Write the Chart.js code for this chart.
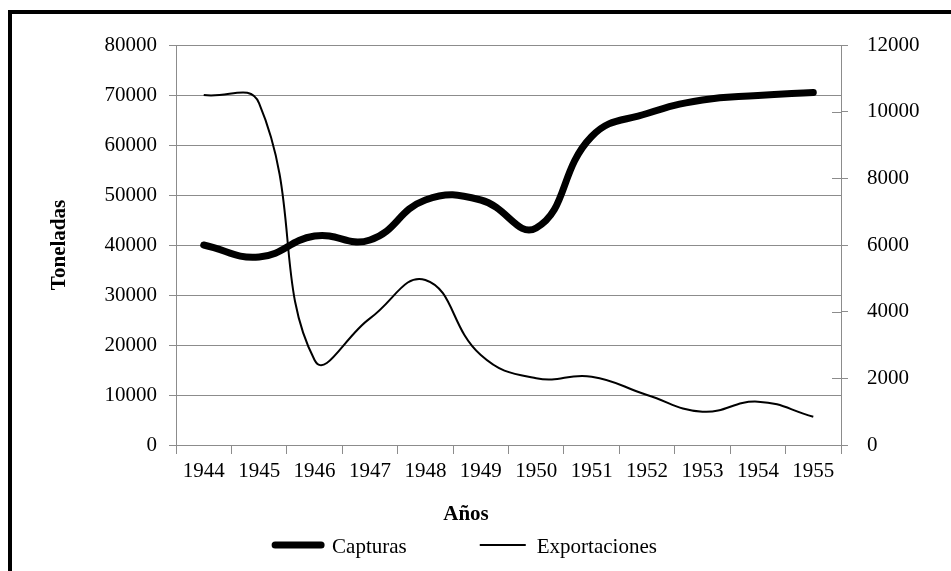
<!DOCTYPE html>
<html>
<head>
<meta charset="utf-8">
<script src="https://cdn.jsdelivr.net/npm/chart.js@4.4.0/dist/chart.umd.min.js"></script>
<style>
  html, body { margin: 0; padding: 0; background: #fff; }
  #wrap { position: relative; width: 951px; height: 571px; overflow: hidden; }
  #frame { position: absolute; left: 8px; top: 10px; width: 980px; height: 620px;
           border: 4px solid #000; box-sizing: border-box; pointer-events: none; }
</style>
</head>
<body>
<div id="wrap">
  <canvas id="capturasChart" width="951" height="571"></canvas>
  <div id="frame"></div>
</div>
<script>
// data
const years = ['1944', '1945', '1946', '1947', '1948', '1949', '1950', '1951', '1952', '1953', '1954', '1955'];
const capturas = [40000, 37600, 41800, 41000, 49000, 49000, 43400, 61700, 66300, 69000, 69900, 70500];
const exportaciones = [10500, 10250, 2550, 3800, 4950, 2700, 2000, 2050, 1500, 1000, 1300, 850];

// axis ticks
const leftTicks = [0, 10000, 20000, 30000, 40000, 50000, 60000, 70000, 80000];
const rightTicks = [0, 2000, 4000, 6000, 8000, 10000, 12000];

const yTitle = 'Toneladas';
const xTitle = 'Años';

const FONT = '"Liberation Serif", "Times New Roman", serif';
const GRAY = '#8c8c8c';

// small legend drawn under the axis, plus the x title centred over it
const bottomLegend = {
    id: 'bottomLegend',
    afterDraw(chart) {
        const ctx = chart.ctx;
        const cx = 466;
        ctx.save();
        ctx.fillStyle = '#000';
        ctx.textBaseline = 'middle';
        ctx.textAlign = 'center';
        ctx.font = 'bold 21px ' + FONT;
        ctx.fillText(xTitle, cx, 515);

        ctx.font = '21px ' + FONT;
        ctx.textAlign = 'left';
        const lineLen = 46, gap = 73;
        const items = chart.data.datasets.map(ds => ({ ds: ds, w: lineLen + 11 + ctx.measureText(ds.label).width }));
        const total = items.reduce((a, it) => a + it.w, 0) + gap * (items.length - 1);
        let x = cx - total / 2;
        items.forEach(it => {
            ctx.strokeStyle = it.ds.borderColor;
            ctx.lineWidth = it.ds.borderWidth;
            ctx.lineCap = it.ds.borderCapStyle || 'butt';
            ctx.beginPath();
            ctx.moveTo(x, 545);
            ctx.lineTo(x + lineLen, 545);
            ctx.stroke();
            ctx.fillText(it.ds.label, x + lineLen + 11, 547);
            x += it.w + gap;
        });
        ctx.restore();
    }
};

// the right axis has its ticks crossing the axis line
const crossTicks = {
    id: 'crossTicks',
    afterDraw(chart) {
        const s = chart.scales.y1;
        const ctx = chart.ctx;
        ctx.save();
        ctx.strokeStyle = GRAY;
        ctx.lineWidth = 1;
        s.ticks.forEach(t => {
            const y = Math.round(s.getPixelForValue(t.value)) + 0.5;
            ctx.beginPath();
            ctx.moveTo(s.left - 9, y);
            ctx.lineTo(s.left, y);
            ctx.stroke();
        });
        ctx.restore();
    }
};

const chartContainer = document.querySelector('#capturasChart');

const chartData = {
    labels: years,
    datasets: [{
        label: 'Capturas',
        data: capturas,
        yAxisID: 'y',
        borderColor: '#000',
        borderWidth: 7,
        borderCapStyle: 'round',
        pointRadius: 0,
        tension: 0.45,
        fill: false
    }, {
        label: 'Exportaciones',
        data: exportaciones,
        yAxisID: 'y1',
        borderColor: '#000',
        borderWidth: 2,
        borderCapStyle: 'butt',
        pointRadius: 0,
        tension: 0.45,
        fill: false
    }]
};

const chartConfig = {
    type: 'line',
    data: chartData,
    options: {
        responsive: false,
        animation: false,
        layout: { padding: { top: 45, left: 0, right: 0, bottom: 76 } },
        plugins: {
            legend: { display: false },
            tooltip: { enabled: false }
        },
        scales: {
            x: {
                offset: true,
                grid: { offset: true, drawOnChartArea: false, drawTicks: true, tickLength: 9, color: GRAY },
                border: { color: GRAY },
                ticks: { color: '#000', font: { family: FONT, size: 21 }, padding: 5, maxRotation: 0, autoSkip: false },
                afterFit: s => { s.height = 50; }
            },
            y: {
                position: 'left',
                min: 0,
                max: 80000,
                afterBuildTicks: s => { s.ticks = leftTicks.map(v => ({ value: v })); },
                ticks: { color: '#000', font: { family: FONT, size: 21 }, padding: 12, callback: v => String(v) },
                grid: { color: GRAY, tickLength: 7 },
                border: { color: GRAY },
                title: { display: true, text: yTitle, color: '#000', font: { family: FONT, size: 21, weight: 'bold' }, padding: { top: 47, bottom: 0 } },
                afterFit: s => { s.width = 176; }
            },
            y1: {
                position: 'right',
                min: 0,
                max: 12000,
                afterBuildTicks: s => { s.ticks = rightTicks.map(v => ({ value: v })); },
                ticks: { color: '#000', font: { family: FONT, size: 21 }, padding: 19, callback: v => String(v) },
                grid: { drawOnChartArea: false, tickLength: 7, color: GRAY },
                border: { color: GRAY },
                afterFit: s => { s.width = 110; }
            }
        }
    },
    plugins: [bottomLegend, crossTicks]
};

const myChart = new Chart(chartContainer, chartConfig);
</script>
</body>
</html>
